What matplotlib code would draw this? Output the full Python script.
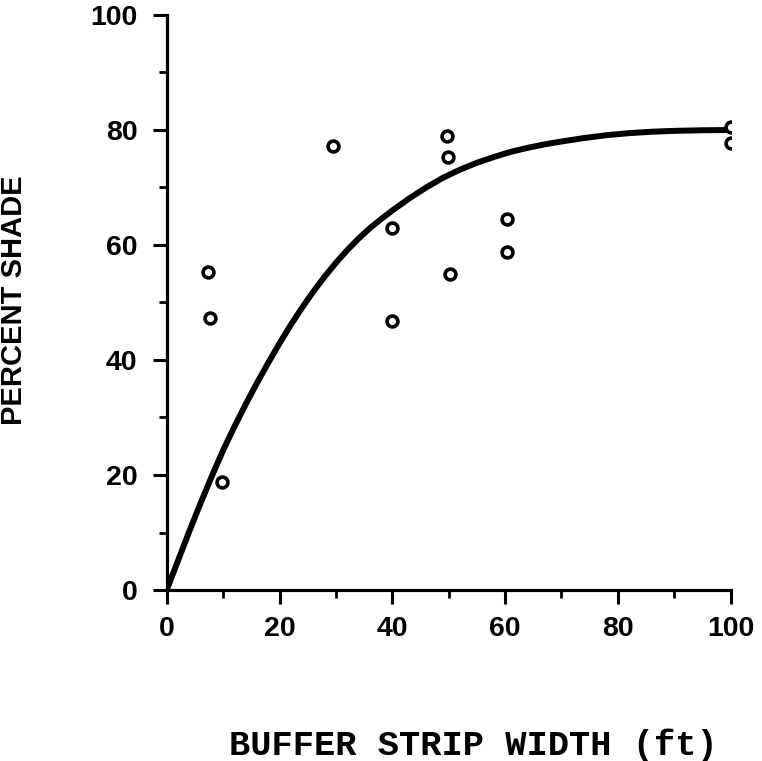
import matplotlib
matplotlib.use("Agg")
import matplotlib.pyplot as plt
from matplotlib.ticker import MultipleLocator

# Observed data points
width_ft = [7.4, 7.7, 9.8, 29.5, 40.0, 40.0, 49.7, 49.8, 50.2, 60.3, 60.3, 100, 100]
shade_pct = [55.3, 47.3, 18.7, 77.2, 63.0, 46.8, 79.0, 75.3, 55.0, 64.5, 58.7, 80.6, 77.8]

# Fitted curve
curve_x = [0, 2, 4, 6, 8, 10, 12, 14, 16, 18, 20, 22, 24, 26, 28, 30, 32, 34, 36, 38,
           40, 43, 46, 49, 52, 55, 58, 61, 64, 67, 70, 74, 78, 82, 86, 90, 95, 100]
curve_y = [0, 5.1, 10.2, 15.1, 19.8, 24.3, 28.4, 32.3, 36.0, 39.5, 42.9, 46.1, 49.1,
           51.9, 54.5, 56.9, 59.1, 61.1, 62.9, 64.5, 66.0, 68.1, 70.0, 71.7, 73.1,
           74.3, 75.3, 76.2, 76.9, 77.5, 78.0, 78.6, 79.1, 79.45, 79.7, 79.85, 79.95, 80.0]

x_ticks = [0, 20, 40, 60, 80, 100]
y_ticks = [0, 20, 40, 60, 80, 100]

fig = plt.figure(figsize=(7.62, 7.61), dpi=100)
ax = fig.add_axes([0.2188, 0.2247, 0.7401, 0.7556])

ax.plot(curve_x, curve_y, color="black", lw=4.3, solid_capstyle="round",
        solid_joinstyle="round", zorder=3)
ax.plot(width_ft, shade_pct, linestyle="none", marker="o", markersize=7.8,
        markerfacecolor="white", markeredgecolor="black", markeredgewidth=2.6, zorder=4)

ax.set_xlim(0, 100)
ax.set_ylim(0, 100)
ax.set_xticks(x_ticks)
ax.set_yticks(y_ticks)
ax.xaxis.set_minor_locator(MultipleLocator(10))
ax.yaxis.set_minor_locator(MultipleLocator(10))

for s in ["top", "right"]:
    ax.spines[s].set_visible(False)
for s in ["left", "bottom"]:
    ax.spines[s].set_linewidth(2.3)

ax.tick_params(which="major", direction="out", length=10, width=2.2, pad=9)
ax.tick_params(which="minor", direction="out", length=6, width=2.0)
ax.tick_params(axis="y", which="major", pad=11)

tick_font = dict(family="Liberation Sans", weight="bold", size=20.5)
ax.set_xticklabels([str(t) for t in x_ticks], fontdict=tick_font)
ax.set_yticklabels([str(t) for t in y_ticks], fontdict=tick_font)

ax.set_xlabel("BUFFER STRIP WIDTH (ft)", family="Liberation Mono", weight="bold",
              fontsize=25.5, va="center")
ax.xaxis.set_label_coords((473 - 166.7) / 564, (590 - 745) / 575)
ax.set_ylabel("PERCENT SHADE", family="Liberation Sans", weight="bold",
              fontsize=21, va="center")
ax.yaxis.set_label_coords((14 - 166.7) / 564, (590 - 300) / 575)

fig.savefig("out.png", dpi=100)
